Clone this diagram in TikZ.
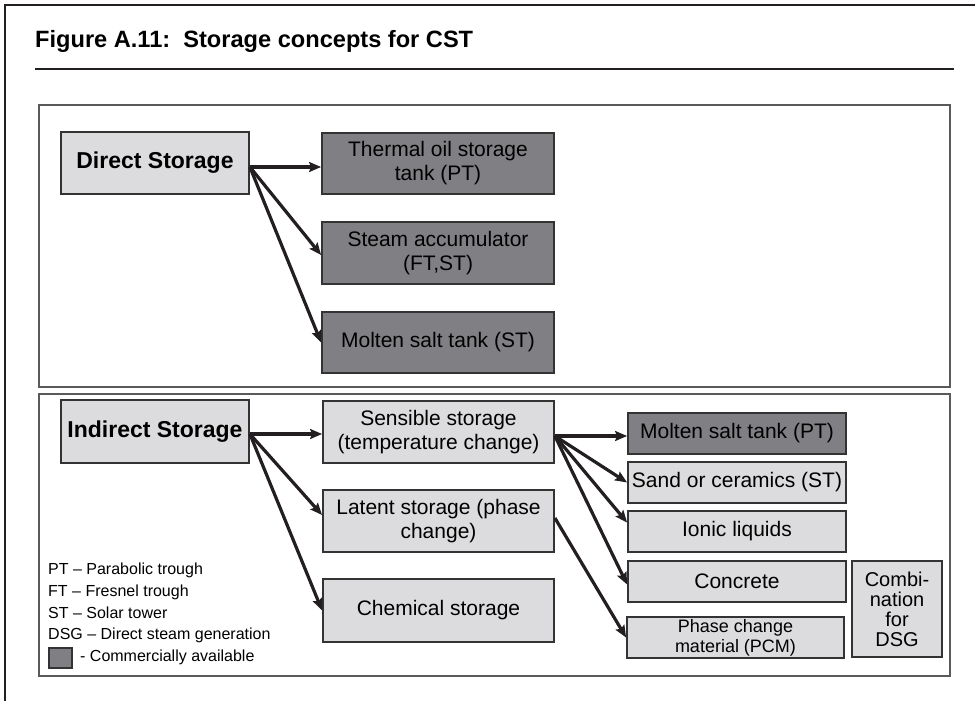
\documentclass[tikz,border=0pt]{standalone}
\usepackage{fontspec}
\setmainfont{Liberation Sans}
\usetikzlibrary{arrows.meta}
\definecolor{lightbox}{HTML}{DCDCDE}
\definecolor{darkbox}{HTML}{808084}
\definecolor{edge}{HTML}{333333}
\definecolor{panel}{HTML}{5A5A5A}
\definecolor{ink}{HTML}{231F20}
\tikzset{
  base/.style={draw=edge, line width=1.8pt, inner sep=2pt, align=center,
    text=black, font=\fontsize{21}{24}\selectfont},
  lightnode/.style={base, fill=lightbox},
  darknode/.style={base, fill=darkbox},
  headnode/.style={lightnode, font=\bfseries\fontsize{23}{26}\selectfont},
  panelbox/.style={draw=panel, line width=1.7pt},
  frame/.style={draw=ink, line width=2.4pt},
  arr/.style={draw=ink, line width=3.2pt, -{Stealth[length=12pt,width=10pt,inset=2pt]}},
  legendtext/.style={anchor=west, inner sep=0pt, font=\fontsize{16}{18}\selectfont}
}
\begin{document}
\begin{tikzpicture}[x=1pt,y=-1pt]
\useasboundingbox (0,0) rectangle (975,701);

% outer frame and title
\draw[frame] (975,5) -- (5,5) -- (5,701);
\node[anchor=base west, inner sep=0pt, font=\bfseries\fontsize{23.6}{26}\selectfont]
  (title) at (35,48) {Figure A.11:\ \ Storage concepts for CST};
\draw[frame] (35,69) -- (954,69);

% panels
\draw[panelbox] (39,105) rectangle (950,387);
\draw[panelbox] (39,394) rectangle (950,676);

% direct storage
\node[headnode, minimum width=188pt, minimum height=62pt] (ds) at (155,163) {Direct Storage};
\node[darknode, minimum width=232pt, minimum height=61pt] (tos) at (438,163.5) {Thermal oil storage\\tank (PT)};
\node[darknode, minimum width=232pt, minimum height=62pt] (sa) at (438,253) {Steam accumulator\\(FT,ST)};
\node[darknode, minimum width=232pt, minimum height=61pt] (mst) at (438,342.5) {Molten salt tank (ST)};

\coordinate (dsrc) at ([yshift=-4pt]ds.east);
\draw[arr] (dsrc) -- (tos.west |- dsrc);
\draw[arr] (dsrc) -- ([yshift=-2pt]sa.west);
\draw[arr] (dsrc) -- (mst.west);

% indirect storage
\node[headnode, minimum width=188pt, minimum height=63pt] (is) at (155,431.5) {Indirect Storage};
\node[lightnode, minimum width=231pt, minimum height=62pt] (sens) at (438.5,432) {Sensible storage\\(temperature change)};
\node[lightnode, minimum width=231pt, minimum height=62pt] (lat) at (438.5,521) {Latent storage (phase\\change)};
\node[lightnode, minimum width=231pt, minimum height=63pt] (chem) at (438.5,610.5) {Chemical storage};

\node[darknode, minimum width=218pt, minimum height=41pt] (mpt) at (737,433.5) {Molten salt tank (PT)};
\node[lightnode, minimum width=218pt, minimum height=41pt] (sand) at (737,482.5) {Sand or ceramics (ST)};
\node[lightnode, minimum width=218pt, minimum height=41pt] (ion) at (737,531.5) {Ionic liquids};
\node[lightnode, minimum width=218pt, minimum height=41pt] (conc) at (737,581.5) {Concrete};
\node[lightnode, minimum width=217pt, minimum height=41pt, font=\fontsize{18}{20}\selectfont] (pcm) at (735.5,637.5) {Phase change\\material (PCM)};
\node[lightnode, minimum width=90pt, minimum height=96pt, font=\fontsize{20}{20}\selectfont] (dsg) at (897,609) {Combi-\\nation\\for\\DSG};

\coordinate (isrc) at ([yshift=-2.5pt]is.east);
\draw[arr] (isrc) -- (sens.west |- isrc);
\draw[arr] (isrc) -- ([yshift=6pt]lat.west);
\draw[arr] (isrc) -- (chem.west);

\coordinate (ssrc) at ([yshift=-4pt]sens.east);
\draw[arr] (ssrc) -- (mpt.west |- ssrc);
\draw[arr] (ssrc) -- (sand.west);
\draw[arr] (ssrc) -- ([yshift=9pt]ion.west);
\draw[arr] (ssrc) -- ([yshift=-3pt]conc.west);

\coordinate (lsrc) at ([yshift=3pt]lat.east);
\draw[arr] (lsrc) -- (pcm.west);

% legend
\node[legendtext] (l1) at (48,570) {PT -- Parabolic trough};
\node[legendtext] (l2) at (48,592) {FT -- Fresnel trough};
\node[legendtext] (l3) at (48,613) {ST -- Solar tower};
\node[legendtext] (l4) at (48,635) {DSG -- Direct steam generation};
\node[draw=edge, line width=1.4pt, fill=darkbox, minimum width=23pt, minimum height=20pt, inner sep=0pt] (lsq) at (60.5,658) {};
\node[legendtext] (l5) at (80,657) {- Commercially available};
\end{tikzpicture}
\end{document}
